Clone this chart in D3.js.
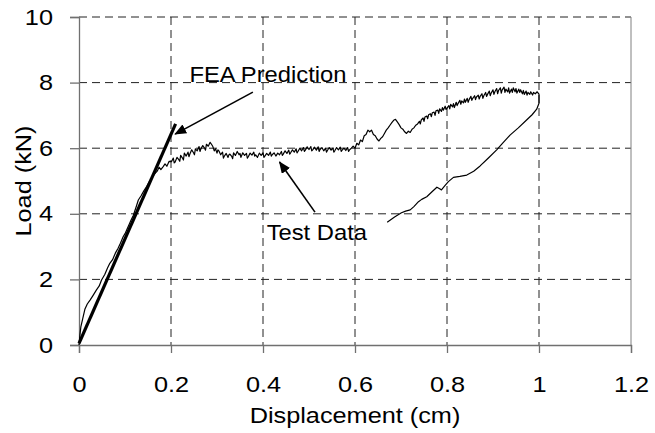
<!DOCTYPE html>
<html>
<head>
<meta charset="utf-8">
<script src="https://cdn.jsdelivr.net/npm/d3@7"></script>
<style>
  body { margin: 0; background: #fff; }
  text { font-family: "Liberation Sans", Arial, sans-serif; fill: #000; }
</style>
</head>
<body>
<div id="chart"></div>
<script>
// axis ticks
const xTicks = [0, 0.2, 0.4, 0.6, 0.8, 1, 1.2];
const yTicks = [0, 2, 4, 6, 8, 10];

// FEA prediction (straight line)
const feaLine = [[0, 0.05], [0.21, 6.74]];

// test data, loading branch (displacement cm, load kN)
const testLoading = [
  [0,0],[0.002,0.3],[0.004,0.55],[0.008,0.8],[0.013,1.1],[0.018,1.25],[0.024,1.37],[0.03,1.5],
  [0.038,1.68],[0.044,1.8],[0.049,1.98],[0.056,2.15],[0.062,2.35],[0.067,2.49],[0.073,2.6],
  [0.079,2.8],[0.085,2.95],[0.09,3.1],[0.096,3.3],[0.101,3.42],[0.107,3.61],[0.113,3.8],
  [0.118,3.95],[0.124,4.2],[0.129,4.42],[0.135,4.55],[0.141,4.7],[0.147,4.83],[0.153,4.98],
  [0.159,5.1],[0.165,5.23],[0.17,5.3],[0.174,5.42],[0.178,5.35],[0.183,5.44],[0.187,5.52],
  [0.191,5.45],[0.196,5.6],[0.201,5.59],[0.205,5.7],[0.207,5.55],[0.209,5.58],[0.213,5.72],
  [0.217,5.65],[0.219,5.6],[0.221,5.78],[0.225,5.7],[0.227,5.64],[0.229,5.85],[0.233,5.76],
  [0.237,5.88],[0.239,5.74],[0.241,5.82],[0.245,5.95],[0.249,5.86],[0.251,5.8],[0.253,5.98],
  [0.257,5.92],[0.261,6.05],[0.263,5.9],[0.265,5.98],[0.269,6.08],[0.273,6.0],[0.275,5.94],
  [0.277,6.12],[0.281,6.06],[0.285,6.18],[0.288,6.12],[0.291,6.05],[0.294,5.92],[0.297,5.98],
  [0.3,5.85],[0.302,5.95],[0.304,5.92],[0.308,5.8],[0.312,5.88],[0.314,5.7],[0.316,5.76],
  [0.32,5.84],[0.324,5.72],[0.326,5.8],[0.328,5.82],[0.332,5.75],[0.334,5.68],[0.336,5.86],
  [0.34,5.78],[0.344,5.9],[0.348,5.8],[0.35,5.84],[0.352,5.72],[0.356,5.86],[0.36,5.78],
  [0.364,5.84],[0.366,5.7],[0.368,5.74],[0.372,5.85],[0.376,5.79],[0.38,5.88],[0.382,5.76],
  [0.384,5.8],[0.388,5.72],[0.392,5.85],[0.396,5.78],[0.4,5.86],[0.402,5.72],[0.404,5.76],
  [0.408,5.84],[0.412,5.78],[0.416,5.88],[0.418,5.76],[0.42,5.8],[0.424,5.86],[0.428,5.76],
  [0.432,5.85],[0.436,5.8],[0.44,5.9],[0.442,5.78],[0.444,5.82],[0.448,5.92],[0.452,5.84],
  [0.456,5.94],[0.458,5.82],[0.46,5.86],[0.464,5.95],[0.468,5.88],[0.472,5.98],[0.474,5.86],
  [0.476,5.9],[0.48,6.0],[0.484,5.92],[0.488,6.02],[0.49,5.9],[0.492,5.94],[0.496,6.04],
  [0.5,5.96],[0.504,6.05],[0.506,5.92],[0.508,5.95],[0.512,6.03],[0.516,5.94],[0.52,6.04],
  [0.522,5.9],[0.524,5.96],[0.528,6.02],[0.532,5.92],[0.536,6.0],[0.538,5.88],[0.54,5.93],
  [0.544,6.02],[0.548,5.94],[0.552,6.0],[0.554,5.88],[0.556,5.92],[0.56,6.02],[0.564,5.95],
  [0.568,6.03],[0.57,5.9],[0.572,5.94],[0.576,6.0],[0.58,5.93],[0.584,6.02],[0.586,5.9],
  [0.588,5.95],[0.592,6.0],[0.596,6.06],[0.6,6.0],[0.604,6.15],[0.608,6.1],[0.612,6.25],
  [0.616,6.2],[0.62,6.38],[0.624,6.42],[0.628,6.55],[0.632,6.5],[0.636,6.55],[0.64,6.42],
  [0.644,6.38],[0.648,6.28],[0.652,6.22],[0.656,6.3],[0.66,6.35],[0.664,6.45],[0.668,6.55],
  [0.672,6.62],[0.676,6.7],[0.68,6.78],[0.684,6.85],[0.688,6.88],[0.692,6.8],[0.696,6.72],
  [0.7,6.62],[0.704,6.58],[0.708,6.5],[0.712,6.45],[0.716,6.52],[0.72,6.48],[0.724,6.58],
  [0.728,6.62],[0.732,6.7],[0.736,6.74],[0.74,6.82],[0.742,6.74],[0.744,6.86],[0.748,6.92],
  [0.75,6.82],[0.752,6.95],[0.756,6.98],[0.758,6.9],[0.76,7.02],[0.764,7.05],[0.766,6.96],
  [0.768,7.08],[0.772,7.1],[0.774,7.0],[0.776,7.14],[0.78,7.16],[0.782,7.06],[0.784,7.2],
  [0.788,7.12],[0.79,7.24],[0.792,7.16],[0.796,7.28],[0.798,7.18],[0.8,7.22],[0.804,7.3],
  [0.806,7.2],[0.808,7.34],[0.812,7.26],[0.814,7.36],[0.816,7.24],[0.82,7.4],[0.822,7.3],
  [0.824,7.36],[0.828,7.46],[0.83,7.34],[0.832,7.44],[0.836,7.38],[0.838,7.5],[0.84,7.4],
  [0.844,7.52],[0.846,7.4],[0.848,7.48],[0.852,7.58],[0.854,7.46],[0.856,7.52],[0.86,7.6],
  [0.862,7.48],[0.864,7.56],[0.868,7.62],[0.87,7.5],[0.872,7.58],[0.876,7.66],[0.878,7.52],
  [0.88,7.6],[0.884,7.7],[0.886,7.58],[0.888,7.64],[0.892,7.74],[0.894,7.6],[0.896,7.68],
  [0.9,7.78],[0.902,7.64],[0.904,7.72],[0.908,7.82],[0.91,7.66],[0.912,7.76],[0.916,7.84],
  [0.918,7.68],[0.92,7.78],[0.924,7.86],[0.926,7.7],[0.928,7.8],[0.932,7.72],[0.934,7.84],
  [0.936,7.68],[0.94,7.8],[0.942,7.7],[0.944,7.84],[0.948,7.72],[0.95,7.82],[0.952,7.68],
  [0.956,7.8],[0.958,7.7],[0.96,7.78],[0.964,7.66],[0.966,7.76],[0.968,7.64],[0.972,7.74],
  [0.974,7.62],[0.976,7.7],[0.98,7.64],[0.982,7.72],[0.986,7.62],[0.988,7.7],[0.992,7.66],
  [0.996,7.72],[1.0,7.65]
];

// test data, unloading branch
const testUnloading = [
  [1.0,7.62],[1.0,7.37],[0.995,7.19],[0.985,7.02],[0.973,6.86],[0.955,6.62],[0.937,6.40],
  [0.922,6.17],[0.908,5.95],[0.89,5.7],[0.872,5.46],[0.858,5.3],[0.843,5.18],[0.828,5.14],
  [0.814,5.11],[0.803,4.98],[0.795,4.85],[0.788,4.73],[0.783,4.77],[0.778,4.81],[0.768,4.68],
  [0.756,4.52],[0.745,4.44],[0.738,4.37],[0.728,4.22],[0.72,4.12],[0.71,4.08],[0.701,4.03],
  [0.686,3.9],[0.670,3.74]
];

// annotations: text anchor point and arrow (from -> to), in data units
const labels = [
  {text: "FEA Prediction", x: 0.24, y: 8.01, from: [0.378, 7.71], to: [0.209, 6.43]},
  {text: "Test Data", x: 0.408, y: 3.2, from: [0.513, 4.05], to: [0.436, 5.58]}
];

const width = 655, height = 433;
const stretch = 1.15;

const svg = d3.select("#chart").append("svg")
    .attr("width", width)
    .attr("height", height);

svg.append("defs").append("marker")
    .attr("id", "arrow")
    .attr("markerUnits", "userSpaceOnUse")
    .attr("viewBox", "0 0 12 10")
    .attr("refX", 11).attr("refY", 5)
    .attr("markerWidth", 12).attr("markerHeight", 10)
    .attr("orient", "auto")
  .append("path")
    .attr("d", "M0,0 L12,5 L0,10 Z")
    .attr("fill", "#000");

const x = d3.scaleLinear().domain([0, 1.2]).range([79, 631]);
const y = d3.scaleLinear().domain([0, 10]).range([345, 17]);

// grid
svg.append("g").selectAll("line")
    .data(yTicks.filter(d => d > 0))
    .join("line")
    .attr("x1", x(0)).attr("x2", x(1.2))
    .attr("y1", d => y(d)).attr("y2", d => y(d))
    .attr("stroke", "#222").attr("stroke-dasharray", "8,5");

svg.append("g").selectAll("line")
    .data(xTicks.filter(d => d > 0 && d < 1.2))
    .join("line")
    .attr("x1", d => x(d)).attr("x2", d => x(d))
    .attr("y1", y(10)).attr("y2", y(0))
    .attr("stroke", "#222").attr("stroke-dasharray", "8,5");

// right border
svg.append("line")
    .attr("x1", x(1.2)).attr("x2", x(1.2))
    .attr("y1", y(10)).attr("y2", y(0))
    .attr("stroke", "#808080");

// axes
const xAxis = svg.append("g")
    .attr("transform", `translate(0,${y(0)})`)
    .call(d3.axisBottom(x).tickValues(xTicks).tickSize(8).tickPadding(23)
        .tickFormat(d3.format("~g")));

const yAxis = svg.append("g")
    .attr("transform", `translate(${x(0)},0)`)
    .call(d3.axisLeft(y).tickValues(yTicks).tickSize(9).tickPadding(17));

[xAxis, yAxis].forEach(function(g) {
    g.select(".domain").attr("stroke", "#707070").attr("stroke-width", 1.3);
    g.selectAll(".tick line").attr("stroke", "#707070").attr("stroke-width", 1.3);
    g.selectAll(".tick text")
        .attr("font-size", 22)
        .attr("fill", "#000")
        .attr("font-family", "Liberation Sans, Arial, sans-serif")
        .attr("x", function() { return (+d3.select(this).attr("x") || 0) / stretch; })
        .attr("transform", `scale(${stretch},1)`);
});

// axis titles
svg.append("text")
    .attr("transform", `translate(${(x(0) + x(1.2)) / 2},423) scale(${stretch},1)`)
    .attr("text-anchor", "middle")
    .attr("font-size", 22)
    .text("Displacement (cm)");

svg.append("text")
    .attr("transform", `translate(31,${(y(0) + y(10)) / 2}) rotate(-90) scale(${stretch},1)`)
    .attr("text-anchor", "middle")
    .attr("font-size", 22)
    .text("Load (kN)");

const line = d3.line().x(d => x(d[0])).y(d => y(d[1]));

// test data
svg.append("path")
    .datum(testLoading.concat(testUnloading))
    .attr("d", line)
    .attr("fill", "none")
    .attr("stroke", "#000")
    .attr("stroke-width", 1.2)
    .attr("stroke-linejoin", "round");

// FEA prediction
svg.append("path")
    .datum(feaLine)
    .attr("d", line)
    .attr("fill", "none")
    .attr("stroke", "#000")
    .attr("stroke-width", 3.2);

// annotations
labels.forEach(function(l) {
    svg.append("line")
        .attr("x1", x(l.from[0])).attr("y1", y(l.from[1]))
        .attr("x2", x(l.to[0])).attr("y2", y(l.to[1]))
        .attr("stroke", "#000")
        .attr("stroke-width", 1.6)
        .attr("marker-end", "url(#arrow)");
    svg.append("text")
        .attr("transform", `translate(${x(l.x)},${y(l.y)}) scale(1.08,1)`)
        .attr("font-size", 22)
        .text(l.text);
});
</script>
</body>
</html>
